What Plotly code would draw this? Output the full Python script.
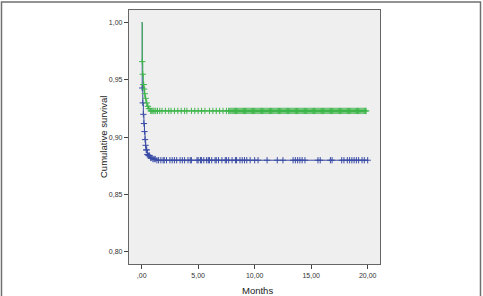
import plotly.graph_objects as go
import numpy as np

# Group A (green) Kaplan-Meier steps
green_t = [0.0, 0.05, 0.10, 0.15, 0.20, 0.25, 0.30, 0.40, 0.50, 0.60, 0.75, 19.86]
green_s = [1.000, 0.966, 0.955, 0.946, 0.942, 0.938, 0.934, 0.930, 0.927, 0.925, 0.923, 0.923]
green_cens = [0.05, 0.10, 0.15, 0.18, 0.22, 0.28, 0.35, 0.45, 0.55, 0.65, 0.8, 0.9,
              1.0, 1.1, 1.25, 1.4, 1.6, 1.8, 2.1, 2.4, 2.6, 2.9, 3.2, 3.5, 3.8, 4.0,
              4.4, 4.7, 5.0, 5.3, 5.6, 6.0, 6.3, 6.6, 6.9, 7.2, 7.5,
              7.7, 7.8, 7.9, 8.0, 8.1, 8.2, 8.3, 8.4, 8.5, 8.6, 8.7, 8.8, 8.9, 9.0, 9.1,
              9.2, 9.3, 9.4, 9.5, 9.6, 9.7, 9.8, 9.9, 10.0, 10.1, 10.2, 10.3, 10.4, 10.5,
              10.6, 10.7, 10.8, 10.9, 11.0, 11.1, 11.2, 11.3, 11.4, 11.5, 11.6, 11.7, 11.8,
              11.9, 12.0, 12.1, 12.2, 12.3, 12.4, 12.5, 12.6, 12.7, 12.8, 12.9, 13.0, 13.1,
              13.2, 13.3, 13.4, 13.5, 13.6, 13.7, 13.8, 13.9, 14.0, 14.1, 14.2, 14.3, 14.4,
              14.5, 14.6, 14.7, 14.8, 14.9, 15.0, 15.1, 15.2, 15.3, 15.4, 15.5, 15.6, 15.7,
              15.8, 15.9, 16.0, 16.1, 16.2, 16.3, 16.4, 16.5, 16.6, 16.7, 16.8, 16.9, 17.0,
              17.1, 17.2, 17.3, 17.4, 17.5, 17.6, 17.7, 17.8, 17.9, 18.0, 18.1, 18.2, 18.3,
              18.4, 18.5, 18.6, 18.7, 18.8, 18.9, 19.0, 19.1, 19.2, 19.3, 19.4, 19.5, 19.6,
              19.7, 19.8, 19.86]

# Group B (blue)
blue_t = [0.0, 0.05, 0.10, 0.15, 0.20, 0.25, 0.30, 0.35, 0.40, 0.50, 0.60, 0.80, 1.00, 1.30, 20.05]
blue_s = [1.000, 0.943, 0.930, 0.920, 0.912, 0.905, 0.898, 0.893, 0.889, 0.885, 0.884, 0.882, 0.881, 0.880, 0.880]
blue_cens = [0.05, 0.10, 0.15, 0.20, 0.25, 0.30, 0.35, 0.40, 0.45, 0.5, 0.6, 0.7, 0.8, 0.9,
             1.0, 1.1, 1.2, 1.35, 1.5, 1.7, 1.9, 2.0, 2.2, 2.5, 2.7, 2.9, 3.1, 3.4, 3.6,
             3.8, 4.1, 4.3, 4.4, 4.9, 5.0, 5.2, 5.3, 5.5, 5.75, 5.9, 6.0, 6.2, 6.5, 6.6,
             6.8, 7.1, 7.4, 7.5, 7.7, 8.0, 8.3, 8.4, 8.7, 8.9, 9.1, 9.3, 9.6, 10.0, 10.3,
             11.1, 12.0, 12.5, 13.4, 13.6, 13.8, 14.0, 14.2, 14.45, 15.6, 15.8, 16.7,
             16.85, 17.7, 17.9, 18.2, 18.4, 18.6, 18.8, 19.0, 19.2, 19.5, 19.7, 20.0]

x_ticks = [0, 5, 10, 15, 20]
x_labels = [",00", "5,00", "10,00", "15,00", "20,00"]
y_ticks = [0.80, 0.85, 0.90, 0.95, 1.00]
y_labels = ["0,80", "0,85", "0,90", "0,95", "1,00"]
x_title = "Months"
y_title = "Cumulative survival"

GREEN = "#3db54a"
BLUE = "#3a4ca6"


def step_at(ts, ss, t):
    idx = np.searchsorted(ts, t, side="right") - 1
    return [ss[i] for i in idx]


fig = go.Figure()
for ts, ss, cens, col in [(blue_t, blue_s, blue_cens, BLUE), (green_t, green_s, green_cens, GREEN)]:
    fig.add_trace(go.Scatter(x=ts, y=ss, mode="lines", line=dict(color=col, width=1, shape="hv"),
                             showlegend=False, hoverinfo="skip"))
    fig.add_trace(go.Scatter(x=cens, y=step_at(ts, ss, cens), mode="markers",
                             marker=dict(symbol="cross-thin", size=4.5, line=dict(color=col, width=1)),
                             showlegend=False, hoverinfo="skip"))

fig.add_shape(type="rect", xref="paper", yref="paper", x0=-0.508, x1=1.4004, y0=-0.15, y1=1.0315,
              line=dict(color="#707070", width=1.5), layer="below")

fig.add_annotation(text=x_title, xref="paper", yref="paper", x=0.51, y=-0.105,
                   xanchor="center", yanchor="middle", showarrow=False,
                   font=dict(size=9.5, color="#222"))
fig.add_annotation(text=y_title, xref="paper", yref="paper", x=-0.1036, y=0.5,
                   xanchor="center", yanchor="middle", showarrow=False, textangle=-90,
                   font=dict(size=9.5, color="#222"))

fig.update_layout(
    width=483, height=296,
    margin=dict(l=129, r=103, t=10, b=32),
    paper_bgcolor="white", plot_bgcolor="#efefef",
    font=dict(family="Liberation Sans, Arial, sans-serif", size=7, color="#333333"),
    xaxis=dict(range=[-1.12, 21.09], tickvals=x_ticks, ticktext=x_labels, ticks="outside",
               ticklen=4, tickcolor="#444", showgrid=False, zeroline=False, automargin=False,
               showline=True, linecolor="#666", linewidth=1.3, mirror=True),
    yaxis=dict(range=[0.7895, 1.011], tickvals=y_ticks, ticktext=y_labels, ticks="outside",
               ticklen=4, tickcolor="#444", showgrid=False, zeroline=False, automargin=False,
               showline=True, linecolor="#666", linewidth=1.3, mirror=True),
)

fig.write_html("out.html")
